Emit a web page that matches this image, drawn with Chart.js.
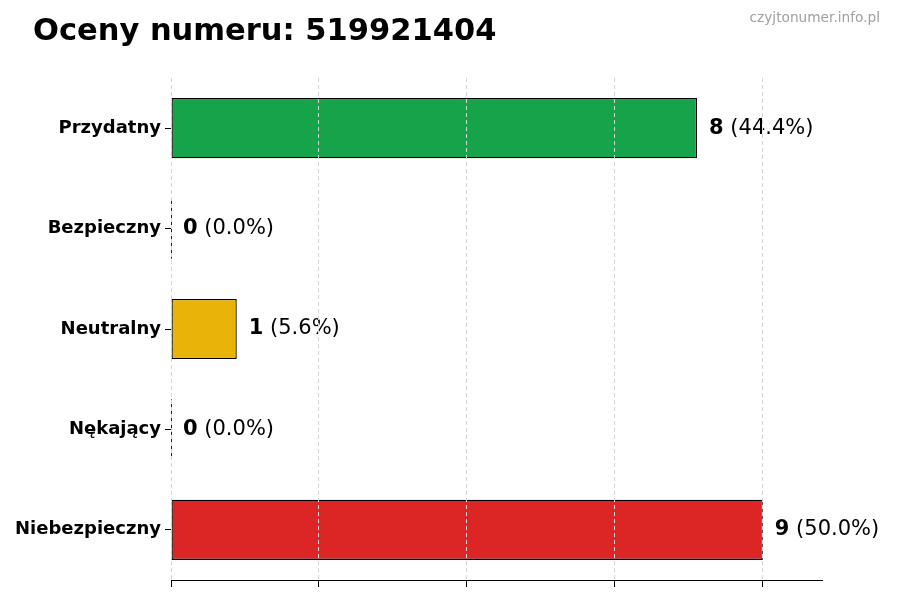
<!DOCTYPE html>
<html lang="pl">
<head>
<meta charset="utf-8">
<title>Oceny numeru: 519921404</title>
<script src="https://cdn.jsdelivr.net/npm/chart.js@4/dist/chart.umd.min.js"></script>
<style>
    html, body { margin: 0; padding: 0; background: #fff; }
    #wrap { width: 900px; height: 600px; }
</style>
</head>
<body>
<div id="wrap"><canvas id="ratingsChart" width="900" height="600"></canvas></div>
<script>
const TITLE_TEXT = 'Oceny numeru: 519921404';
const WATERMARK = 'czyjtonumer.info.pl';

const categories = ['Przydatny', 'Bezpieczny', 'Neutralny', 'Nękający', 'Niebezpieczny'];
const counts = [8, 0, 1, 0, 9];
const barColors = ['#16a34a', '#6b7280', '#eab308', '#f97316', '#dc2626'];
const xTicks = [0, 2.25, 4.5, 6.75, 9];
const xMax = 9.9;

const FONT = "'DejaVu Sans', 'Liberation Sans', sans-serif";
const total = counts.reduce((a, b) => a + b, 0);

Chart.defaults.font.family = FONT;
Chart.defaults.color = '#000';

// title + watermark, drawn straight on the canvas
const headerPlugin = {
    id: 'header',
    afterDraw(chart) {
        const ctx = chart.ctx;
        ctx.save();
        ctx.fillStyle = '#000';
        ctx.font = 'bold 30.5px ' + FONT;
        ctx.textAlign = 'left';
        ctx.textBaseline = 'alphabetic';
        ctx.fillText(TITLE_TEXT, 33, 40);

        ctx.fillStyle = '#a0a0a0';
        ctx.font = '13.7px ' + FONT;
        ctx.textAlign = 'right';
        ctx.fillText(WATERMARK, 880, 22);
        ctx.restore();
    }
};

// "8 (44.4%)" labels next to each bar, plus the hairline for empty bars
const valueLabelPlugin = {
    id: 'valueLabels',
    afterDatasetsDraw(chart) {
        const ctx = chart.ctx;
        const meta = chart.getDatasetMeta(0);
        ctx.save();
        meta.data.forEach((bar, i) => {
            const value = counts[i];
            if (value === 0) {
                ctx.strokeStyle = '#222';
                ctx.lineWidth = 1;
                ctx.beginPath();
                ctx.moveTo(Math.round(bar.base) + 0.5, bar.y - bar.height / 2);
                ctx.lineTo(Math.round(bar.base) + 0.5, bar.y + bar.height / 2);
                ctx.stroke();
            }
            const pct = total > 0 ? (value / total * 100).toFixed(1) : '0.0';
            let x = bar.x + 12;
            ctx.textBaseline = 'middle';
            ctx.textAlign = 'left';
            ctx.fillStyle = '#000';
            ctx.font = 'bold 21px ' + FONT;
            const bold = String(value);
            ctx.fillText(bold, x, bar.y);
            x += ctx.measureText(bold).width;
            ctx.font = '21px ' + FONT;
            ctx.fillText(' (' + pct + '%)', x, bar.y);
        });
        ctx.restore();
    }
};

new Chart(document.getElementById('ratingsChart'), {
    type: 'bar',
    data: {
        labels: categories,
        datasets: [{
            data: counts,
            backgroundColor: barColors,
            borderColor: '#000',
            borderWidth: 1.3,
            borderSkipped: false,
            barPercentage: 0.6,
            categoryPercentage: 1
        }]
    },
    options: {
        indexAxis: 'y',
        responsive: false,
        animation: false,
        layout: { padding: { left: 0, top: 78, right: 78, bottom: 0 } },
        plugins: {
            legend: { display: false },
            tooltip: { enabled: false },
            title: { display: false }
        },
        scales: {
            x: {
                min: 0,
                max: xMax,
                afterBuildTicks: scale => { scale.ticks = xTicks.map(v => ({ value: v })); },
                afterFit: scale => { scale.height = 20; },
                ticks: { display: false },
                grid: { color: '#d4d4d4', tickColor: '#000', tickLength: 7, z: 1 },
                border: { display: true, color: '#000', width: 1, dash: [4, 3], z: 1 }
            },
            y: {
                afterFit: scale => { scale.width = 171; },
                ticks: { font: { size: 18, weight: 'bold' }, color: '#000', padding: 4 },
                grid: { drawOnChartArea: false, offset: false, tickColor: '#000', tickLength: 6 },
                border: { display: false }
            }
        }
    },
    plugins: [headerPlugin, valueLabelPlugin]
});
</script>
</body>
</html>
